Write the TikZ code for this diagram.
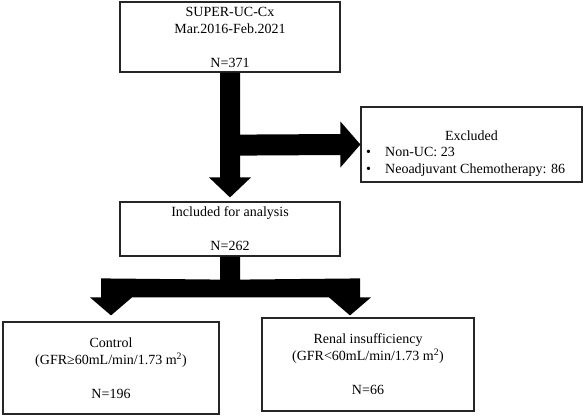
\documentclass[tikz,border=0pt]{standalone}
\usepackage{fontspec}
\setmainfont{Liberation Serif}
\usetikzlibrary{calc}
\begin{document}
\begin{tikzpicture}[x=1pt,y=-1pt,
  box/.style={draw=black!85,line width=1.2pt,inner sep=0pt,align=center,font=\fontsize{14}{17}\selectfont},
  txt/.style={inner sep=0pt,font=\fontsize{14}{17}\selectfont},
  blockarrow/.style={fill=black}]
\useasboundingbox (0,0) rectangle (584,420);
% boxes
\node[box,minimum width=220pt,minimum height=70pt] (top) at (230,37)
  {SUPER-UC-Cx\\Mar.2016-Feb.2021\\[17pt]N=371};
\node[box,minimum width=221pt,minimum height=75pt] (excl) at (471.5,144.5) {};
\node[txt] (excltitle) at (471.5,136) {Excluded};
\node[txt,anchor=west,align=left] (excllist) at (366,161.5)
  {\makebox[19pt][l]{•}Non-UC: 23\\\makebox[19pt][l]{•}Neoadjuvant Chemotherapy: 86};
\node[box,minimum width=220pt,minimum height=54pt] (incl) at (230,229)
  {Included for analysis\\[17pt]N=262};
\node[box,minimum width=216pt,minimum height=92pt] (ctrl) at (111,368)
  {Control\\(GFR≥60mL/min/1.73 m\textsuperscript{2})\\[17pt]N=196};
\node[box,minimum width=212pt,minimum height=93pt] (renal) at (368,364.5)
  {Renal insufficiency\\(GFR<60mL/min/1.73 m\textsuperscript{2})\\[17pt]N=66};
% tips
\coordinate (ltip) at ($(ctrl.north)+(0,-6)$);
\coordinate (rtip) at ($(renal.north)+(-18,-2)$);
% upper block arrow with branch to Excluded
\fill[blockarrow] ($(top.south)+(-10,0)$) -- ($(top.south)+(10,0)$)
  -- ($(top.south)+(10,62)$) -- ($(excl.west)+(-20,-10.5)$)
  -- ($(excl.west)+(-20,-23)$) -- (excl.west)
  -- ($(excl.west)+(-20,23)$) -- ($(excl.west)+(-20,10.5)$)
  -- ($(top.south)+(10,83)$) -- ($(incl.north)+(10,-24)$)
  -- ($(incl.north)+(21,-24)$) -- ($(incl.north)+(0,-4)$)
  -- ($(incl.north)+(-21,-24)$) -- ($(incl.north)+(-10,-24)$) -- cycle;
% lower split block arrow
\fill[blockarrow] ($(incl.south)+(-10,0)$) -- ($(incl.south)+(10,0)$)
  -- ($(incl.south)+(10,23)$) -- ($(rtip)+(10,-37)$)
  -- ($(rtip)+(10,-18)$) -- ($(rtip)+(21,-18)$) -- (rtip)
  -- ($(rtip)+(-21,-18)$) -- ($(ltip)+(21,-18)$) -- (ltip)
  -- ($(ltip)+(-21,-18)$) -- ($(ltip)+(-10,-18)$)
  -- ($(ltip)+(-10,-37)$) -- ($(incl.south)+(-10,23)$) -- cycle;
\end{tikzpicture}
\end{document}
